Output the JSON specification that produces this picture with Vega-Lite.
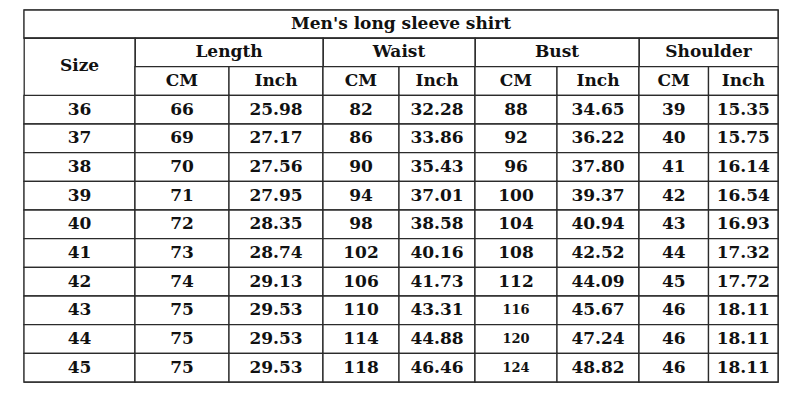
{
  "$schema": "https://vega.github.io/schema/vega-lite/v6.json",
  "padding": {"left": 22, "top": 8, "right": 0, "bottom": 0},
  "background": "white",
  "bounds": "flush",
  "spacing": 0,
  "config": {
    "view": {"stroke": "#2b2b2b", "strokeWidth": 1.3},
    "axis": {"disable": true},
    "text": {"font": "DejaVu Serif", "fontWeight": "bold", "fontSize": 17, "color": "#111111"},
    "rect": {"fill": "white", "stroke": "#2b2b2b", "strokeWidth": 1.3}
  },
  "datasets": {
    "sizes": [
      {"Size": 36, "Length CM": 66, "Length Inch": 25.98, "Waist CM": 82, "Waist Inch": 32.28, "Bust CM": 88, "Bust Inch": 34.65, "Shoulder CM": 39, "Shoulder Inch": 15.35},
      {"Size": 37, "Length CM": 69, "Length Inch": 27.17, "Waist CM": 86, "Waist Inch": 33.86, "Bust CM": 92, "Bust Inch": 36.22, "Shoulder CM": 40, "Shoulder Inch": 15.75},
      {"Size": 38, "Length CM": 70, "Length Inch": 27.56, "Waist CM": 90, "Waist Inch": 35.43, "Bust CM": 96, "Bust Inch": 37.80, "Shoulder CM": 41, "Shoulder Inch": 16.14},
      {"Size": 39, "Length CM": 71, "Length Inch": 27.95, "Waist CM": 94, "Waist Inch": 37.01, "Bust CM": 100, "Bust Inch": 39.37, "Shoulder CM": 42, "Shoulder Inch": 16.54},
      {"Size": 40, "Length CM": 72, "Length Inch": 28.35, "Waist CM": 98, "Waist Inch": 38.58, "Bust CM": 104, "Bust Inch": 40.94, "Shoulder CM": 43, "Shoulder Inch": 16.93},
      {"Size": 41, "Length CM": 73, "Length Inch": 28.74, "Waist CM": 102, "Waist Inch": 40.16, "Bust CM": 108, "Bust Inch": 42.52, "Shoulder CM": 44, "Shoulder Inch": 17.32},
      {"Size": 42, "Length CM": 74, "Length Inch": 29.13, "Waist CM": 106, "Waist Inch": 41.73, "Bust CM": 112, "Bust Inch": 44.09, "Shoulder CM": 45, "Shoulder Inch": 17.72},
      {"Size": 43, "Length CM": 75, "Length Inch": 29.53, "Waist CM": 110, "Waist Inch": 43.31, "Bust CM": 116, "Bust Inch": 45.67, "Shoulder CM": 46, "Shoulder Inch": 18.11},
      {"Size": 44, "Length CM": 75, "Length Inch": 29.53, "Waist CM": 114, "Waist Inch": 44.88, "Bust CM": 120, "Bust Inch": 47.24, "Shoulder CM": 46, "Shoulder Inch": 18.11},
      {"Size": 45, "Length CM": 75, "Length Inch": 29.53, "Waist CM": 118, "Waist Inch": 46.46, "Bust CM": 124, "Bust Inch": 48.82, "Shoulder CM": 46, "Shoulder Inch": 18.11}
    ]
  },
  "vconcat": [
    {
      "width": 754,
      "height": 28,
      "data": {"values": [{"t": "Men's long sleeve shirt"}]},
      "encoding": {
        "x": {"field": "t", "type": "nominal", "scale": {"type": "band", "paddingInner": 0, "paddingOuter": 0}, "axis": null},
        "y": {"field": "t", "type": "nominal", "scale": {"type": "band", "paddingInner": 0, "paddingOuter": 0}, "axis": null}
      },
      "layer": [
        {"mark": {"type": "rect"}},
        {"mark": {"type": "text"}, "encoding": {"text": {"field": "t"}}}
      ]
    },
    {
      "spacing": 0,
      "bounds": "flush",
      "hconcat": [
        {
          "width": 111,
          "height": 344,
          "layer": [
            {
              "data": {"values": [{"t": "Size"}]},
              "mark": {"type": "text", "dy": 14},
              "encoding": {
                "y": {"datum": "g", "type": "ordinal", "scale": {"type": "band", "domain": ["g", "s", 36, 37, 38, 39, 40, 41, 42, 43, 44, 45], "paddingInner": 0, "paddingOuter": 0}, "axis": null},
                "text": {"field": "t"}
              }
            },
            {
              "data": {"name": "sizes"},
              "encoding": {
                "y": {"field": "Size", "type": "ordinal", "scale": {"type": "band", "domain": ["g", "s", 36, 37, 38, 39, 40, 41, 42, 43, 44, 45], "paddingInner": 0, "paddingOuter": 0}, "axis": null}
              },
              "layer": [
                {"mark": {"type": "rect"}},
                {"mark": {"type": "text"}, "encoding": {"text": {"field": "Size", "type": "quantitative"}}}
              ]
            }
          ]
        },
        {
          "width": 188,
          "height": 344,
          "layer": [
            {
              "data": {"values": [{"t": "Length"}]},
              "mark": {"type": "text"},
              "encoding": {
                "y": {"datum": "g", "type": "ordinal", "scale": {"type": "band", "domain": ["g", "s", 36, 37, 38, 39, 40, 41, 42, 43, 44, 45], "paddingInner": 0, "paddingOuter": 0}, "axis": null},
                "text": {"field": "t"}
              }
            },
            {
              "data": {"values": [{"col": "Length CM", "t": "CM"}, {"col": "Length Inch", "t": "Inch"}]},
              "encoding": {
                "x": {"field": "col", "type": "nominal", "scale": {"type": "band", "domain": ["Length CM", "Length Inch"], "paddingInner": 0, "paddingOuter": 0}, "axis": null},
                "y": {"datum": "s", "type": "ordinal", "scale": {"type": "band", "domain": ["g", "s", 36, 37, 38, 39, 40, 41, 42, 43, 44, 45], "paddingInner": 0, "paddingOuter": 0}, "axis": null}
              },
              "layer": [
                {"mark": {"type": "rect"}},
                {"mark": {"type": "text"}, "encoding": {"text": {"field": "t"}}}
              ]
            },
            {
              "data": {"name": "sizes"},
              "transform": [{"fold": ["Length CM", "Length Inch"], "as": ["col", "v"]}],
              "encoding": {
                "x": {"field": "col", "type": "nominal", "scale": {"type": "band", "domain": ["Length CM", "Length Inch"], "paddingInner": 0, "paddingOuter": 0}, "axis": null},
                "y": {"field": "Size", "type": "ordinal", "scale": {"type": "band", "domain": ["g", "s", 36, 37, 38, 39, 40, 41, 42, 43, 44, 45], "paddingInner": 0, "paddingOuter": 0}, "axis": null}
              },
              "layer": [
                {"mark": {"type": "rect"}},
                {"transform": [{"filter": "datum.col === 'Length CM'"}], "mark": {"type": "text"}, "encoding": {"text": {"field": "v", "type": "quantitative", "format": "d"}}},
                {"transform": [{"filter": "datum.col === 'Length Inch'"}], "mark": {"type": "text"}, "encoding": {"text": {"field": "v", "type": "quantitative", "format": ".2f"}}}
              ]
            }
          ]
        },
        {
          "width": 152,
          "height": 344,
          "layer": [
            {
              "data": {"values": [{"t": "Waist"}]},
              "mark": {"type": "text"},
              "encoding": {
                "y": {"datum": "g", "type": "ordinal", "scale": {"type": "band", "domain": ["g", "s", 36, 37, 38, 39, 40, 41, 42, 43, 44, 45], "paddingInner": 0, "paddingOuter": 0}, "axis": null},
                "text": {"field": "t"}
              }
            },
            {
              "data": {"values": [{"col": "Waist CM", "t": "CM"}, {"col": "Waist Inch", "t": "Inch"}]},
              "encoding": {
                "x": {"field": "col", "type": "nominal", "scale": {"type": "band", "domain": ["Waist CM", "Waist Inch"], "paddingInner": 0, "paddingOuter": 0}, "axis": null},
                "y": {"datum": "s", "type": "ordinal", "scale": {"type": "band", "domain": ["g", "s", 36, 37, 38, 39, 40, 41, 42, 43, 44, 45], "paddingInner": 0, "paddingOuter": 0}, "axis": null}
              },
              "layer": [
                {"mark": {"type": "rect"}},
                {"mark": {"type": "text"}, "encoding": {"text": {"field": "t"}}}
              ]
            },
            {
              "data": {"name": "sizes"},
              "transform": [{"fold": ["Waist CM", "Waist Inch"], "as": ["col", "v"]}],
              "encoding": {
                "x": {"field": "col", "type": "nominal", "scale": {"type": "band", "domain": ["Waist CM", "Waist Inch"], "paddingInner": 0, "paddingOuter": 0}, "axis": null},
                "y": {"field": "Size", "type": "ordinal", "scale": {"type": "band", "domain": ["g", "s", 36, 37, 38, 39, 40, 41, 42, 43, 44, 45], "paddingInner": 0, "paddingOuter": 0}, "axis": null}
              },
              "layer": [
                {"mark": {"type": "rect"}},
                {"transform": [{"filter": "datum.col === 'Waist CM'"}], "mark": {"type": "text"}, "encoding": {"text": {"field": "v", "type": "quantitative", "format": "d"}}},
                {"transform": [{"filter": "datum.col === 'Waist Inch'"}], "mark": {"type": "text"}, "encoding": {"text": {"field": "v", "type": "quantitative", "format": ".2f"}}}
              ]
            }
          ]
        },
        {
          "width": 164,
          "height": 344,
          "layer": [
            {
              "data": {"values": [{"t": "Bust"}]},
              "mark": {"type": "text"},
              "encoding": {
                "y": {"datum": "g", "type": "ordinal", "scale": {"type": "band", "domain": ["g", "s", 36, 37, 38, 39, 40, 41, 42, 43, 44, 45], "paddingInner": 0, "paddingOuter": 0}, "axis": null},
                "text": {"field": "t"}
              }
            },
            {
              "data": {"values": [{"col": "Bust CM", "t": "CM"}, {"col": "Bust Inch", "t": "Inch"}]},
              "encoding": {
                "x": {"field": "col", "type": "nominal", "scale": {"type": "band", "domain": ["Bust CM", "Bust Inch"], "paddingInner": 0, "paddingOuter": 0}, "axis": null},
                "y": {"datum": "s", "type": "ordinal", "scale": {"type": "band", "domain": ["g", "s", 36, 37, 38, 39, 40, 41, 42, 43, 44, 45], "paddingInner": 0, "paddingOuter": 0}, "axis": null}
              },
              "layer": [
                {"mark": {"type": "rect"}},
                {"mark": {"type": "text"}, "encoding": {"text": {"field": "t"}}}
              ]
            },
            {
              "data": {"name": "sizes"},
              "transform": [{"fold": ["Bust CM", "Bust Inch"], "as": ["col", "v"]}],
              "encoding": {
                "x": {"field": "col", "type": "nominal", "scale": {"type": "band", "domain": ["Bust CM", "Bust Inch"], "paddingInner": 0, "paddingOuter": 0}, "axis": null},
                "y": {"field": "Size", "type": "ordinal", "scale": {"type": "band", "domain": ["g", "s", 36, 37, 38, 39, 40, 41, 42, 43, 44, 45], "paddingInner": 0, "paddingOuter": 0}, "axis": null}
              },
              "layer": [
                {"mark": {"type": "rect"}},
                {
                  "transform": [{"filter": "datum.col === 'Bust CM'"}],
                  "mark": {"type": "text"},
                  "encoding": {
                    "text": {"field": "v", "type": "quantitative", "format": "d"},
                    "size": {"condition": {"test": "datum.v >= 116", "value": 13}, "value": 17}
                  }
                },
                {"transform": [{"filter": "datum.col === 'Bust Inch'"}], "mark": {"type": "text"}, "encoding": {"text": {"field": "v", "type": "quantitative", "format": ".2f"}}}
              ]
            }
          ]
        },
        {
          "width": 139,
          "height": 344,
          "layer": [
            {
              "data": {"values": [{"t": "Shoulder"}]},
              "mark": {"type": "text"},
              "encoding": {
                "y": {"datum": "g", "type": "ordinal", "scale": {"type": "band", "domain": ["g", "s", 36, 37, 38, 39, 40, 41, 42, 43, 44, 45], "paddingInner": 0, "paddingOuter": 0}, "axis": null},
                "text": {"field": "t"}
              }
            },
            {
              "data": {"values": [{"col": "Shoulder CM", "t": "CM"}, {"col": "Shoulder Inch", "t": "Inch"}]},
              "encoding": {
                "x": {"field": "col", "type": "nominal", "scale": {"type": "band", "domain": ["Shoulder CM", "Shoulder Inch"], "paddingInner": 0, "paddingOuter": 0}, "axis": null},
                "y": {"datum": "s", "type": "ordinal", "scale": {"type": "band", "domain": ["g", "s", 36, 37, 38, 39, 40, 41, 42, 43, 44, 45], "paddingInner": 0, "paddingOuter": 0}, "axis": null}
              },
              "layer": [
                {"mark": {"type": "rect"}},
                {"mark": {"type": "text"}, "encoding": {"text": {"field": "t"}}}
              ]
            },
            {
              "data": {"name": "sizes"},
              "transform": [{"fold": ["Shoulder CM", "Shoulder Inch"], "as": ["col", "v"]}],
              "encoding": {
                "x": {"field": "col", "type": "nominal", "scale": {"type": "band", "domain": ["Shoulder CM", "Shoulder Inch"], "paddingInner": 0, "paddingOuter": 0}, "axis": null},
                "y": {"field": "Size", "type": "ordinal", "scale": {"type": "band", "domain": ["g", "s", 36, 37, 38, 39, 40, 41, 42, 43, 44, 45], "paddingInner": 0, "paddingOuter": 0}, "axis": null}
              },
              "layer": [
                {"mark": {"type": "rect"}},
                {"transform": [{"filter": "datum.col === 'Shoulder CM'"}], "mark": {"type": "text"}, "encoding": {"text": {"field": "v", "type": "quantitative", "format": "d"}}},
                {"transform": [{"filter": "datum.col === 'Shoulder Inch'"}], "mark": {"type": "text"}, "encoding": {"text": {"field": "v", "type": "quantitative", "format": ".2f"}}}
              ]
            }
          ]
        }
      ]
    }
  ]
}
